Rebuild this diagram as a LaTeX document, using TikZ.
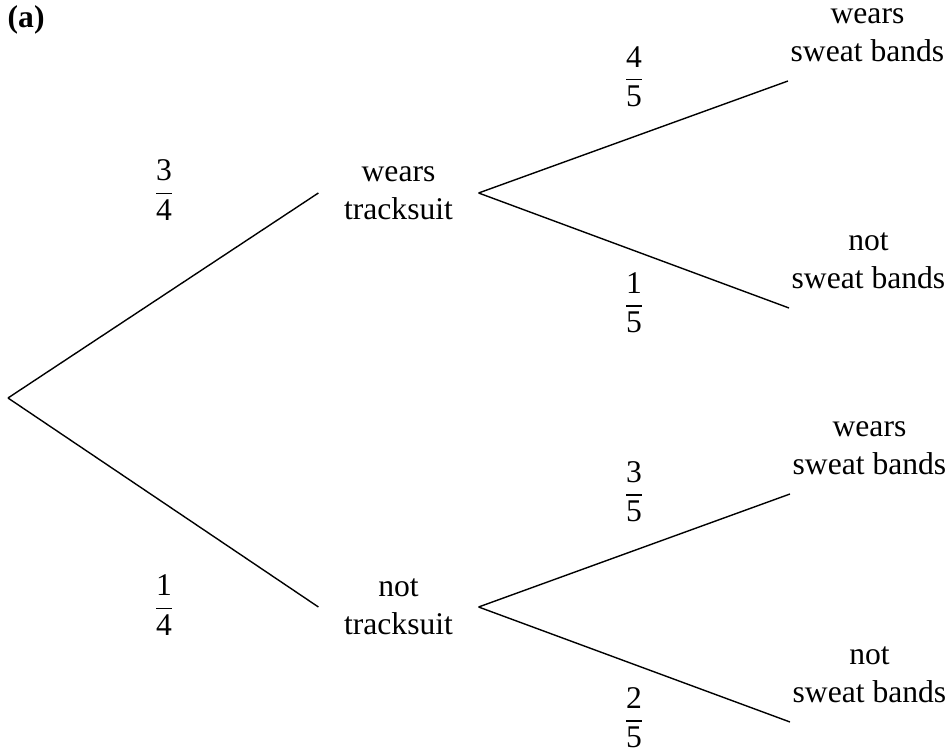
\documentclass[tikz,border=0pt]{standalone}
\usepackage{amsmath}
\usepackage{fontspec}
\setmainfont{Liberation Serif}
\usepackage{tikz}

\newcommand{\fr}[2]{$\dfrac{\text{#1}}{\text{#2}}$}

\begin{document}
\begin{tikzpicture}[x=0.5pt,y=-0.5pt,line width=0.7pt,
  every node/.style={font=\fontsize{15.8}{19}\selectfont},
  event/.style={align=center,inner xsep=12.5pt,inner ysep=0pt},
  outcome/.style={align=center,anchor=south west,inner xsep=1pt,inner ysep=9pt},
  prob/.style={inner sep=0pt}]
\useasboundingbox (0,0) rectangle (949,753);
\node[anchor=base west,inner sep=0pt,font=\fontsize{15.8}{19}\selectfont\bfseries] (part) at (7,28) {(a)};
\coordinate (root) at (8,398);
% first stage
\node[event] (wt) at (398.5,193) {wears\\tracksuit};
\node[event] (nt) at (398.5,607) {not\\tracksuit};
\draw (root) -- (wt.west);
\draw (root) -- (nt.west);
\node[prob] (f34) at (164,190) {\fr{3}{4}};
\node[prob] (f14) at (164,605) {\fr{1}{4}};
% second stage
\node[outcome] (wsb1) at (788,81) {wears\\sweat bands};
\node[outcome] (nsb1) at (789,308) {not\\sweat bands};
\node[outcome] (wsb2) at (790,494) {wears\\sweat bands};
\node[outcome] (nsb2) at (790,722) {not\\sweat bands};
\draw (wt.east) -- (wsb1.south west);
\draw (wt.east) -- (nsb1.south west);
\draw (nt.east) -- (wsb2.south west);
\draw (nt.east) -- (nsb2.south west);
\node[prob] (f45) at (634,77) {\fr{4}{5}};
\node[prob] (f15) at (634,303) {\fr{1}{5}};
\node[prob] (f35) at (634,492) {\fr{3}{5}};
\node[prob] (f25) at (634,718) {\fr{2}{5}};
\end{tikzpicture}
\end{document}
